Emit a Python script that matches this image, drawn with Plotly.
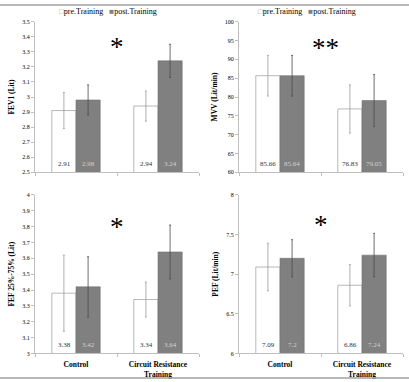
import plotly.graph_objects as go

categories = ["Control", "Circuit Resistance<br>Training"]

fev1_pre = [2.91, 2.94]
fev1_post = [2.98, 3.24]
fev1_pre_err = [0.12, 0.10]
fev1_post_err = [0.10, 0.11]

mvv_pre = [85.66, 76.83]
mvv_post = [85.64, 79.05]
mvv_pre_err = [5.4, 6.4]
mvv_post_err = [5.4, 6.9]

fef_pre = [3.38, 3.34]
fef_post = [3.42, 3.64]
fef_pre_err = [0.24, 0.11]
fef_post_err = [0.19, 0.17]

pef_pre = [7.09, 6.86]
pef_post = [7.2, 7.24]
pef_pre_err = [0.30, 0.26]
pef_post_err = [0.235, 0.275]

pre_labels = {"fev1": ["2.91", "2.94"], "mvv": ["85.66", "76.83"], "fef": ["3.38", "3.34"], "pef": ["7.09", "6.86"]}
post_labels = {"fev1": ["2.98", "3.24"], "mvv": ["85.64", "79.05"], "fef": ["3.42", "3.64"], "pef": ["7.2", "7.24"]}

series_names = ["pre.Training", "post.Training"]
y_titles = ["FEV1 (Lit)", "MVV (Lit/min)", "FEF 25%-75% (Lit)", "PEF (Lit/min)"]
y_ranges = [[2.5, 3.5], [60, 100], [3, 4], [6, 8]]
y_dticks = [0.1, 5, 0.1, 0.5]
stars = ["*", "**", "*", "*"]
star_y = [3.33, 93.0, 3.80, 7.62]

FONT = "Liberation Serif"
PRE_FILL = "#ffffff"
PRE_LINE = "#a6a6a6"
POST_FILL = "#808080"
POST_LINE = "#6e6e6e"
AXIS = "#bfbfbf"

panels = [
    ("fev1", fev1_pre, fev1_post, fev1_pre_err, fev1_post_err),
    ("mvv", mvv_pre, mvv_post, mvv_pre_err, mvv_post_err),
    ("fef", fef_pre, fef_post, fef_pre_err, fef_post_err),
    ("pef", pef_pre, pef_post, pef_pre_err, pef_post_err),
]

W, H = 409, 382
xdoms = [[35 / W, 199 / W], [239 / W, 403 / W]]
ydoms = [[1 - 172 / H, 1 - 19 / H], [1 - 356 / H, 1 - 195 / H]]
legend_x = [108 / W, 307 / W]
BAR_HALF = 12  # px offset of each grouped bar centre from the category centre

fig = go.Figure()
layout = {}
annotations = []

for i, (key, pre, post, pre_e, post_e) in enumerate(panels):
    n = i + 1
    xa = "x" if n == 1 else f"x{n}"
    ya = "y" if n == 1 else f"y{n}"
    row, col = divmod(i, 2)
    fig.add_trace(go.Bar(
        x=categories, y=pre, name=series_names[0], xaxis=xa, yaxis=ya,
        marker=dict(color=PRE_FILL, line=dict(color=PRE_LINE, width=0.8)),
        error_y=dict(type="data", array=pre_e, color="#9a9a9a", thickness=0.8, width=1),
        showlegend=False,
    ))
    fig.add_trace(go.Bar(
        x=categories, y=post, name=series_names[1], xaxis=xa, yaxis=ya,
        marker=dict(color=POST_FILL, line=dict(color=POST_LINE, width=0.6)),
        error_y=dict(type="data", array=post_e, color="#4a4a4a", thickness=0.8, width=1),
        showlegend=False,
    ))
    # value labels at the base of each bar
    for j, cat in enumerate(categories):
        annotations.append(dict(
            x=cat, y=y_ranges[i][0], xref=xa, yref=ya, xshift=-BAR_HALF, yshift=2,
            text=pre_labels[key][j], showarrow=False, xanchor="center", yanchor="bottom",
            font=dict(family=FONT, size=7, color="#333333"),
        ))
        annotations.append(dict(
            x=cat, y=y_ranges[i][0], xref=xa, yref=ya, xshift=BAR_HALF, yshift=2,
            text=post_labels[key][j], showarrow=False, xanchor="center", yanchor="bottom",
            font=dict(family=FONT, size=7, color="#d0d0d0"),
        ))
    xkey = "xaxis" if n == 1 else f"xaxis{n}"
    ykey = "yaxis" if n == 1 else f"yaxis{n}"
    layout[xkey] = dict(
        domain=xdoms[col], anchor=ya, type="category",
        showline=True, linecolor=AXIS, linewidth=1,
        ticks="outside", tickson="boundaries", ticklen=3, tickcolor=AXIS,
        showticklabels=(row == 1), ticklabelstandoff=4,
        tickfont=dict(family=FONT, size=7.5, color="#000000", weight="bold"),
        showgrid=False, zeroline=False, fixedrange=True,
    )
    layout[ykey] = dict(
        domain=ydoms[row], anchor=xa, range=y_ranges[i], dtick=y_dticks[i],
        tick0=y_ranges[i][0],
        showline=True, linecolor=AXIS, linewidth=1,
        ticks="outside", ticklen=3, tickcolor=AXIS,
        tickfont=dict(family=FONT, size=6, color="#000000"),
        title=dict(text=y_titles[i], font=dict(family=FONT, size=7.5, color="#000000", weight="bold"), standoff=6),
        showgrid=False, zeroline=False, fixedrange=True,
    )
    annotations.append(dict(
        x=0.5 if i != 1 else 0.55, y=star_y[i], xref=xa, yref=ya,
        text=stars[i], showarrow=False,
        font=dict(family=FONT, size=27, color="#000000"),
        xanchor="center", yanchor="middle",
    ))
    if row == 0:
        annotations.append(dict(
            x=legend_x[col], y=1 - 9 / H, xref="paper", yref="paper",
            text=(f"<span style='color:#a0a0a0'>□</span>{series_names[0]}   "
                  f"<span style='color:{POST_FILL}'>■</span>{series_names[1]}"),
            showarrow=False, xanchor="center", yanchor="middle",
            font=dict(family=FONT, size=8, color="#000000"),
        ))

shapes = [
    dict(type="line", xref="paper", yref="paper", x0=0, x1=1, y0=1 - 2 / H, y1=1 - 2 / H,
         line=dict(color="#a0a0a0", width=1.5)),
    dict(type="line", xref="paper", yref="paper", x0=0, x1=1, y0=1 - 381 / H, y1=1 - 381 / H,
         line=dict(color="#a0a0a0", width=1.5)),
]

fig.update_layout(
    **layout,
    width=W, height=H,
    margin=dict(l=0, r=0, t=0, b=0),
    paper_bgcolor="#ffffff", plot_bgcolor="#ffffff",
    barmode="group", bargap=0.41, bargroupgap=0,
    annotations=annotations, shapes=shapes,
    font=dict(family=FONT), showlegend=False,
)

fig.write_html("out.html")
